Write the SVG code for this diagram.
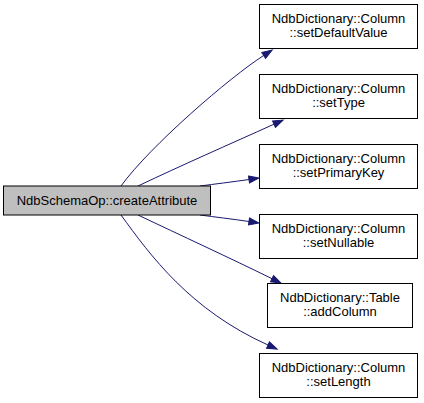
<svg xmlns="http://www.w3.org/2000/svg" width="424" height="403" viewBox="0 0 424 403">
<style>
  .node rect { fill: #ffffff; stroke: #000000; stroke-width: 1; }
  .node.main rect { fill: #bfbfbf; }
  .node text { font-family: "Liberation Sans", Arial, sans-serif; font-size: 13px; fill: #000000; text-anchor: middle; }
  .edges path { fill: none; stroke: #191970; stroke-width: 1; }
</style>
<defs>
  <marker id="arrow" markerUnits="userSpaceOnUse" markerWidth="11" markerHeight="8" refX="0" refY="3.5" orient="auto" overflow="visible">
    <path d="M0,0 L10,3.5 L0,7 Z" fill="#191970" stroke="#191970" stroke-width="1"/>
  </marker>
</defs>
<g class="edges">
  <path d="M121,186 C150,146 230,77 263.7,55.5" marker-end="url(#arrow)"/>
  <path d="M138,186 C180,166 230,144 274,124.2" marker-end="url(#arrow)"/>
  <path d="M200,186 C215,184 232,182 249,179.5" marker-end="url(#arrow)"/>
  <path d="M200,215 C215,217 232,219 249,221.5" marker-end="url(#arrow)"/>
  <path d="M138,215 C180,235 230,258 272,278.7" marker-end="url(#arrow)"/>
  <path d="M121,215 C150,255 190,310 268,345" marker-end="url(#arrow)"/>
</g>
<g id="node_createAttribute" class="node main">
  <rect x="3.5" y="186" width="207" height="29"/>
  <text x="107" y="205">NdbSchemaOp::createAttribute</text>
</g>
<g id="node_setDefaultValue" class="node">
  <rect x="259.5" y="4.5" width="158" height="44"/>
  <text x="338.5" y="23">NdbDictionary::Column</text>
  <text x="338.5" y="37">::setDefaultValue</text>
</g>
<g id="node_setType" class="node">
  <rect x="259.5" y="74.5" width="158" height="44"/>
  <text x="338.5" y="93">NdbDictionary::Column</text>
  <text x="338.5" y="107">::setType</text>
</g>
<g id="node_setPrimaryKey" class="node">
  <rect x="259.5" y="144.5" width="158" height="44"/>
  <text x="338.5" y="163">NdbDictionary::Column</text>
  <text x="338.5" y="177">::setPrimaryKey</text>
</g>
<g id="node_setNullable" class="node">
  <rect x="259.5" y="214.5" width="158" height="44"/>
  <text x="338.5" y="233">NdbDictionary::Column</text>
  <text x="338.5" y="247">::setNullable</text>
</g>
<g id="node_addColumn" class="node">
  <rect x="267.5" y="283.5" width="145" height="44"/>
  <text x="340" y="302">NdbDictionary::Table</text>
  <text x="340" y="316">::addColumn</text>
</g>
<g id="node_setLength" class="node">
  <rect x="259.5" y="353.5" width="158" height="44"/>
  <text x="338.5" y="372">NdbDictionary::Column</text>
  <text x="338.5" y="386">::setLength</text>
</g>
</svg>
